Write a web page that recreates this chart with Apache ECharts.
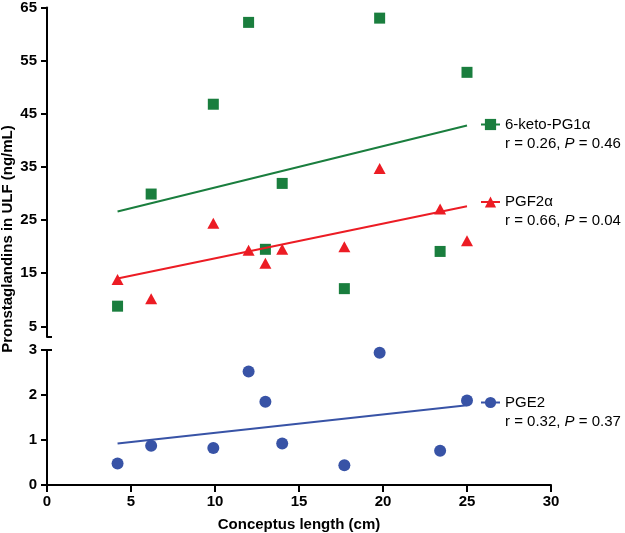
<!DOCTYPE html>
<html><head><meta charset="utf-8">
<script src="https://cdn.jsdelivr.net/npm/echarts@6/dist/echarts.min.js"></script>
<style>html,body{margin:0;padding:0;background:#fff}#c{width:625px;height:533px}</style>
</head><body><div id="c"></div>
<script>
// ---- data ----
const lengthCm = [4.2, 6.2, 9.9, 12.0, 13.0, 14.0, 17.7, 19.8, 23.4, 25.0];
const keto = [8.8, 29.9, 46.8, 62.2, 19.5, 31.9, 12.1, 63.0, 19.1, 52.8];
const pgf2a = [13.8, 10.2, 24.4, 19.3, 16.9, 19.5, 20.0, 34.7, 27.1, 21.1];
const pge2 = [0.48, 0.87, 0.82, 2.52, 1.85, 0.92, 0.44, 2.94, 0.76, 1.88];
const fitX = [4.2, 25.0];
const ketoFit = [26.6, 42.8];
const pgf2aFit = [14.0, 27.6];
const pge2Fit = [0.92, 1.77];
const upperTicks = [5, 15, 25, 35, 45, 55, 65];
const lowerTicks = [0, 1, 2, 3];
const seriesNames = ['6-keto-PG1α', 'PGF2α', 'PGE2'];
const statR = ['0.26', '0.66', '0.32'];
const statP = ['0.46', '0.04', '0.37'];

const FONT = '"Liberation Sans", Arial, Helvetica, sans-serif';
const GREEN = '#1a7e3e', RED = '#ec1c24', BLUE = '#3853a6';
const zip = (xs, ys) => xs.map((x, i) => [x, ys[i]]);
const axisLineStyle = { show: true, lineStyle: { color: '#000', width: 2 } };
const labelStyle = { color: '#000', fontFamily: FONT, fontWeight: 'bold', fontSize: 15 };

const chart = echarts.init(document.getElementById('c'), null, { renderer: 'canvas' });

const legendRich = {
  e: { fontSize: 15, lineHeight: 19, fontFamily: FONT, color: '#000' },
  n: { fontSize: 15, lineHeight: 19, fontFamily: FONT, color: '#000' },
  s: { fontSize: 15, lineHeight: 19, fontFamily: FONT, color: '#000' },
  p: { fontSize: 15, lineHeight: 19, fontFamily: FONT, color: '#000', fontStyle: 'italic' }
};
const legendTops = [98, 175.5, 376];
const pointStyle = (c) => ({ color: c, opacity: 1 });

const option = {
  animation: false,
  backgroundColor: '#fff',
  grid: [
    { left: 47, top: 6, width: 504, height: 331 },
    { left: 47, top: 350, width: 504, height: 136 }
  ],
  xAxis: [
    { gridIndex: 0, type: 'value', min: 0, max: 30, show: false },
    { gridIndex: 1, type: 'value', min: 0, max: 30, interval: 5,
      axisLine: axisLineStyle,
      axisTick: { show: true, length: 7, lineStyle: { color: '#000', width: 2 } },
      axisLabel: Object.assign({ margin: 9 }, labelStyle),
      splitLine: { show: false },
      name: 'Conceptus length (cm)', nameLocation: 'middle', nameGap: 32,
      nameTextStyle: labelStyle }
  ],
  yAxis: [
    { gridIndex: 0, type: 'value', min: 3, max: 65, position: 'left',
      axisLine: axisLineStyle,
      axisTick: { show: true, length: 6, customValues: upperTicks, lineStyle: { color: '#000', width: 2 } },
      axisLabel: Object.assign({ margin: 10, customValues: upperTicks }, labelStyle),
      splitLine: { show: false } },
    { gridIndex: 0, type: 'value', min: 3, max: 65, position: 'left',
      axisLine: { show: false },
      axisTick: { show: true, inside: true, length: 5, customValues: [3], lineStyle: { color: '#000', width: 2 } },
      axisLabel: { show: false }, splitLine: { show: false } },
    { gridIndex: 1, type: 'value', min: 0, max: 3, interval: 1, position: 'left',
      axisLine: axisLineStyle,
      axisTick: { show: true, length: 6, lineStyle: { color: '#000', width: 2 } },
      axisLabel: Object.assign({ margin: 10 }, labelStyle),
      splitLine: { show: false } },
    { gridIndex: 1, type: 'value', min: 0, max: 3, position: 'left',
      axisLine: { show: false },
      axisTick: { show: true, inside: true, length: 5, customValues: [3], lineStyle: { color: '#000', width: 2 } },
      axisLabel: { show: false }, splitLine: { show: false } }
  ],
  legend: seriesNames.map((n, i) => ({
    data: [n], left: 480, top: legendTops[i], padding: 0,
    itemWidth: 19, itemHeight: 14, selectedMode: false,
    formatter: (name) => {
      const k = seriesNames.indexOf(name);
      return '{e| }\n{n|' + name + '}\n{s|r = ' + statR[k] + ', }{p|P}{s| = ' + statP[k] + '}';
    },
    textStyle: { rich: legendRich }
  })),
  graphic: [{
    type: 'text', x: 8, y: 239, rotation: Math.PI / 2,
    style: { text: 'Pronstaglandins in ULF (ng/mL)', fontFamily: FONT, fontWeight: 'bold', fontSize: 15,
             fill: '#000', align: 'center', verticalAlign: 'middle' }
  }],
  series: [
    { name: 'keto-data', type: 'scatter', xAxisIndex: 0, yAxisIndex: 0, symbol: 'rect', symbolSize: 11,
      itemStyle: pointStyle(GREEN), data: zip(lengthCm, keto) },
    { name: seriesNames[0], type: 'line', xAxisIndex: 0, yAxisIndex: 0, symbol: 'rect', showSymbol: false,
      lineStyle: { color: GREEN, width: 2 }, itemStyle: { color: GREEN }, data: zip(fitX, ketoFit) },
    { name: 'pgf-data', type: 'scatter', xAxisIndex: 0, yAxisIndex: 0, symbol: 'triangle', symbolSize: [12, 11],
      itemStyle: pointStyle(RED), data: zip(lengthCm, pgf2a) },
    { name: seriesNames[1], type: 'line', xAxisIndex: 0, yAxisIndex: 0, symbol: 'triangle', showSymbol: false,
      lineStyle: { color: RED, width: 2 }, itemStyle: { color: RED }, data: zip(fitX, pgf2aFit) },
    { name: 'pge-data', type: 'scatter', xAxisIndex: 1, yAxisIndex: 2, symbol: 'circle', symbolSize: 12,
      itemStyle: pointStyle(BLUE), data: zip(lengthCm, pge2) },
    { name: seriesNames[2], type: 'line', xAxisIndex: 1, yAxisIndex: 2, symbol: 'circle', showSymbol: false,
      lineStyle: { color: BLUE, width: 2 }, itemStyle: { color: BLUE }, data: zip(fitX, pge2Fit) }
  ]
};
chart.setOption(option);
</script>
</body></html>
